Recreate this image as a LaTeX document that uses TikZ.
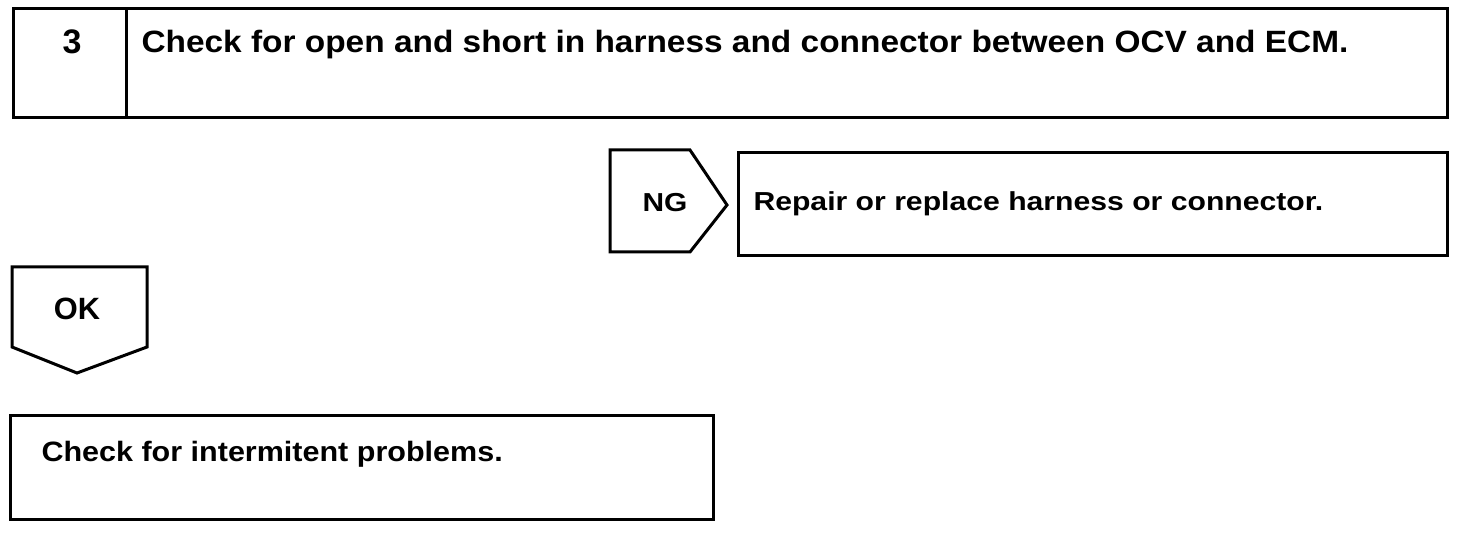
\documentclass[tikz,border=0pt]{standalone}
\usepackage{fontspec}
\setmainfont{Liberation Sans}
\newcommand{\fs}[3]{{\fontsize{#1}{#1}\selectfont\bfseries\scalebox{#2}[1]{#3}}}
\begin{document}
\begin{tikzpicture}[x=0.5pt,y=-0.5pt,
  line width=1.5pt, line join=miter,
  txt/.style={anchor=base west, inner sep=0pt},
  ctxt/.style={anchor=base, inner sep=0pt}]
\useasboundingbox (0,0) rectangle (1472,534);
% step box
\draw (13,9) rectangle (1447,118);
\draw (126,9) -- (126,118);
\node[ctxt] (num) at (72,54) {\fs{17}{1}{3}};
\node[txt] (t1) at (140,53) {\fs{15.4}{1.085}{Check for open and short in harness and connector between OCV and ECM.}};
% NG arrow
\coordinate (ng1) at (610,150);
\coordinate (ng2) at (690,150);
\coordinate (ngtip) at (727,205);
\coordinate (ng4) at (690,252);
\coordinate (ng5) at (610,252);
\draw (ng1) -- (ng2) -- (ngtip) -- (ng4) -- (ng5) -- cycle;
\node[ctxt] (ng) at (665,212) {\fs{13}{1.15}{NG}};
% repair box
\draw (738,153) rectangle (1447,256);
\node[txt] (t2) at (752,211) {\fs{13}{1.16}{Repair or replace harness or connector.}};
% OK arrow
\coordinate (ok1) at (12,267);
\coordinate (ok2) at (147,267);
\coordinate (ok3) at (147,347);
\coordinate (oktip) at (77,373);
\coordinate (ok5) at (12,347);
\draw (ok1) -- (ok2) -- (ok3) -- (oktip) -- (ok5) -- cycle;
\node[ctxt] (ok) at (77,320) {\fs{15.4}{1}{OK}};
% final box
\draw (10,415) rectangle (713,519);
\node[txt] (t3) at (40,461) {\fs{14}{1.09}{Check for intermitent problems.}};
\end{tikzpicture}
\end{document}
